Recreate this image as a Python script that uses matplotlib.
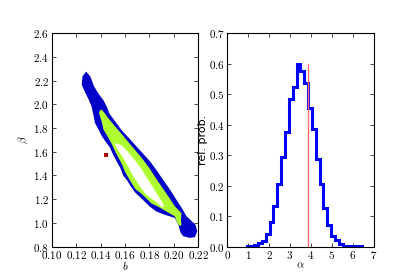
#!/usr/bin/python
# -*- coding: utf-8 -*-
"""Posterior contours for (b, beta) and the marginal distribution of alpha."""

import matplotlib
matplotlib.use('Agg')
import matplotlib.pyplot as plt
from matplotlib.ticker import FuncFormatter

# outer (blue) credible region, traced outline in (b, beta)
OUTER_B = [0.1281, 0.1251, 0.1245, 0.1273, 0.1300, 0.1327, 0.1341, 0.1354,
           0.1382, 0.1409, 0.1445, 0.1475, 0.1505, 0.1533, 0.1562, 0.1588,
           0.1612, 0.1645, 0.1682, 0.1723, 0.1764, 0.1805, 0.1859, 0.1927,
           0.2009, 0.2040, 0.2055, 0.2078, 0.2132, 0.2174, 0.2193, 0.2180,
           0.2140, 0.2105, 0.2068, 0.2025, 0.1975, 0.1920, 0.1865, 0.1808,
           0.1748, 0.1688, 0.1628, 0.1568, 0.1520, 0.1472, 0.1452, 0.1425,
           0.1385, 0.1345, 0.1316]
OUTER_BETA = [2.276, 2.235, 2.167, 2.100, 2.045, 1.977, 1.910, 1.842,
              1.788, 1.733, 1.679, 1.638, 1.570, 1.516, 1.462, 1.394,
              1.367, 1.312, 1.258, 1.217, 1.177, 1.136, 1.095, 1.068,
              1.041, 0.980, 0.920, 0.887, 0.873, 0.879, 0.928, 0.982,
              1.022, 1.055, 1.122, 1.190, 1.272, 1.353, 1.435, 1.516,
              1.584, 1.652, 1.720, 1.788, 1.855, 1.923, 1.977, 2.032,
              2.086, 2.154, 2.235]

# middle (green) region
MID_B = [0.1395, 0.1387, 0.1409, 0.1423, 0.1462, 0.1492, 0.1522, 0.1550,
         0.1578, 0.1598, 0.1620, 0.1652, 0.1685, 0.1736, 0.1777, 0.1818,
         0.1873, 0.1941, 0.2009, 0.2030, 0.2050, 0.2064, 0.2060, 0.2064,
         0.2012, 0.1960, 0.1905, 0.1852, 0.1800, 0.1742, 0.1686, 0.1630,
         0.1575, 0.1518, 0.1464, 0.1436, 0.1409]
MID_BETA = [1.950, 1.923, 1.855, 1.788, 1.720, 1.665, 1.597, 1.543,
            1.489, 1.435, 1.394, 1.340, 1.285, 1.245, 1.204, 1.163,
            1.136, 1.095, 1.055, 1.000, 0.972, 0.985, 1.020, 1.082,
            1.136, 1.217, 1.299, 1.380, 1.462, 1.543, 1.611, 1.679,
            1.747, 1.815, 1.882, 1.923, 1.956]

# innermost (white) region
IN_B = [0.1518, 0.1535, 0.1572, 0.1603, 0.1633, 0.1660, 0.1695, 0.1730,
        0.1766, 0.1818, 0.1873, 0.1905, 0.1921, 0.1905, 0.1870, 0.1830,
        0.1780, 0.1730, 0.1680, 0.1625, 0.1575, 0.1535]
IN_BETA = [1.665, 1.625, 1.570, 1.516, 1.462, 1.407, 1.353, 1.299,
           1.245, 1.204, 1.163, 1.131, 1.141, 1.177, 1.231, 1.299,
           1.380, 1.462, 1.530, 1.597, 1.652, 1.671]

TRUE_B = 0.1445
TRUE_BETA = 1.576

# marginal of alpha
ALPHA_EDGES = [0.93, 1.11, 1.30, 1.48, 1.66, 1.85, 2.03, 2.21, 2.40, 2.58,
               2.77, 2.95, 3.13, 3.32, 3.50, 3.69, 3.87, 4.05, 4.24, 4.42,
               4.60, 4.79, 4.97, 5.16, 5.34, 5.52, 5.71, 5.89, 6.07, 6.26,
               6.44]
ALPHA_PROB = [0.001, 0.003, 0.005, 0.010, 0.018, 0.042, 0.080, 0.132,
              0.205, 0.293, 0.375, 0.485, 0.525, 0.598, 0.575, 0.537,
              0.455, 0.385, 0.286, 0.206, 0.128, 0.070, 0.036, 0.020,
              0.008, 0.003, 0.002, 0.001, 0.001, 0.001]
TRUE_ALPHA = 3.88
LINE_TOP = 0.6

B_TICKS = [0.10, 0.12, 0.14, 0.16, 0.18, 0.20, 0.22]
BETA_TICKS = [0.8, 1.0, 1.2, 1.4, 1.6, 1.8, 2.0, 2.2, 2.4, 2.6]
ALPHA_TICKS = [0, 1, 2, 3, 4, 5, 6, 7]
PROB_TICKS = [0.0, 0.1, 0.2, 0.3, 0.4, 0.5, 0.6, 0.7]

plt.rcParams['mathtext.fontset'] = 'cm'
plt.rcParams['font.size'] = 8


def mathfmt(digits):
    """Tick labels in computer modern via mathtext."""
    return FuncFormatter(lambda v, pos: r'$%.*f$' % (digits, v))


def style(ax):
    ax.tick_params(direction='in', top=True, right=True, length=3,
                   width=0.5, labelsize=8, pad=2)
    for sp in ax.spines.values():
        sp.set_linewidth(0.8)


fig, (ax1, ax2) = plt.subplots(1, 2, figsize=(4.15, 2.77), dpi=100)

ax1.fill(OUTER_B, OUTER_BETA, color='#0000c8', lw=0)
ax1.fill(MID_B, MID_BETA, color='#adff2f', lw=0)
ax1.fill(IN_B, IN_BETA, color='white', lw=0)
ax1.plot([TRUE_B], [TRUE_BETA], 's', color='#b00000', ms=2.5, mew=0)
ax1.set_xlim(0.10, 0.22)
ax1.set_ylim(0.8, 2.6)
ax1.set_xticks(B_TICKS)
ax1.set_yticks(BETA_TICKS)
ax1.xaxis.set_major_formatter(mathfmt(2))
ax1.yaxis.set_major_formatter(mathfmt(1))
ax1.set_xlabel(r'$b$', labelpad=-1)
ax1.set_ylabel(r'$\beta$')
ax1.yaxis.set_label_coords(-0.14, 0.5)
style(ax1)

ax2.stairs(ALPHA_PROB, ALPHA_EDGES, color='#0000ff', lw=2.2)
ax2.plot([TRUE_ALPHA, TRUE_ALPHA], [0, LINE_TOP], color='#ff7070', lw=1)
ax2.set_xlim(0, 7)
ax2.set_ylim(0, 0.7)
ax2.set_xticks(ALPHA_TICKS)
ax2.set_yticks(PROB_TICKS)
ax2.xaxis.set_major_formatter(mathfmt(0))
ax2.yaxis.set_major_formatter(mathfmt(1))
ax2.set_xlabel(r'$\alpha$', labelpad=-1)
ax2.set_ylabel('rel. prob.')
ax2.yaxis.set_label_coords(-0.135, 0.5)
style(ax2)

fig.savefig('out.png', dpi=100)
